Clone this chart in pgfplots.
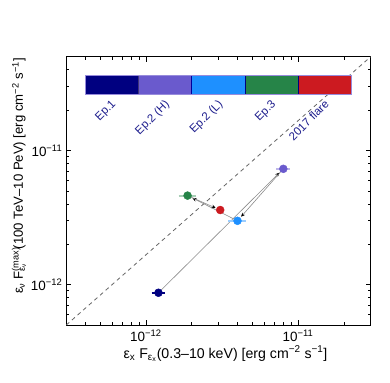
\documentclass[border=0pt]{standalone}
\usepackage{fontspec}
\setmainfont{Liberation Sans}
\usepackage{pgfplots}
\pgfplotsset{compat=1.18}
\usetikzlibrary{arrows.meta}

\definecolor{cEpA}{RGB}{0,0,128}
\definecolor{cEpB}{RGB}{106,90,205}
\definecolor{cEpC}{RGB}{30,144,255}
\definecolor{cEpD}{RGB}{38,132,72}
\definecolor{cFl}{RGB}{204,26,32}
\definecolor{labc}{RGB}{28,28,140}
\definecolor{arrc}{RGB}{140,140,140}

\begin{document}
\begin{tikzpicture}
\path[use as bounding box] (-66.3bp,-58bp) rectangle (323.7bp,325bp);
\begin{axis}[
  scale only axis, width=304.4bp, height=268.3bp,
  xmode=log, ymode=log,
  xmin=3e-13, xmax=3e-11, ymin=5e-13, ymax=5e-11,
  axis line style={line width=0.8bp},
  tick align=inside,
  major tick length=5bp, minor tick length=3bp,
  every tick/.style={black, line width=0.6bp},
  xtick={1e-12,1e-11},
  xticklabels={10\textsuperscript{−12},10\textsuperscript{−11}},
  ytick={1e-12,1e-11},
  yticklabels={10\textsuperscript{−12},10\textsuperscript{−11}},
  minor xtick={4e-13,5e-13,6e-13,7e-13,8e-13,9e-13,2e-12,3e-12,4e-12,5e-12,6e-12,7e-12,8e-12,9e-12,2e-11,3e-11},
  minor ytick={6e-13,7e-13,8e-13,9e-13,2e-12,3e-12,4e-12,5e-12,6e-12,7e-12,8e-12,9e-12,2e-11,3e-11,4e-11,5e-11},
  tick label style={font=\fontsize{13.5}{15}\selectfont},
  xticklabel style={yshift=-1bp},
  yticklabel style={xshift=-0.5bp},
  xlabel={ε\textsubscript{x} F\textsubscript{ε\textsubscript{x}}(0.3–10 keV) [erg cm\textsuperscript{−2} s\textsuperscript{−1}]},
  ylabel={ε\textsubscript{ν} F\rlap{\textsuperscript{(max)}}\textsubscript{ε\textsubscript{ν}}\hspace{1.05em}(100 TeV–10 PeV) [erg cm\textsuperscript{−2} s\textsuperscript{−1}]},
  every axis x label/.style={at={(rel axis cs:0.523,0)}, anchor=base, yshift=-33bp, font=\fontsize{14.2}{16}\selectfont},
  every axis y label/.style={at={(rel axis cs:0,0.555)}, xshift=-43.3bp, rotate=90, anchor=base, font=\fontsize{13.2}{15}\selectfont},
  clip=false,
]
% dashed reference line
\addplot[color=black!60, line width=0.8bp, dash pattern=on 4bp off 3.5bp] coordinates {(3e-13,5e-13) (3e-11,5e-11)};

% evolution arrows
\addplot[arrc, line width=0.6bp, -{Stealth[black,length=4bp,width=3.6bp]}, shorten >=5.5bp] coordinates {(1.21e-12,0.87e-12) (8.0e-12,7.3e-12)};
\addplot[arrc, line width=0.6bp, -{Stealth[black,length=4bp,width=3.6bp]}, shorten >=5.5bp] coordinates {(8.0e-12,7.3e-12) (4.0e-12,2.99e-12)};
\addplot[arrc, line width=0.6bp, -{Stealth[black,length=4bp,width=3.6bp]}, shorten >=5.5bp] coordinates {(4.0e-12,2.99e-12) (1.88e-12,4.61e-12)};
\addplot[arrc, line width=0.6bp, -{Stealth[black,length=4bp,width=3.6bp]}, shorten >=5bp] coordinates {(1.88e-12,4.61e-12) (3.08e-12,3.6e-12)};

% horizontal error bars
\addplot[cEpA, line width=1.5bp] coordinates {(1.09e-12,0.87e-12) (1.344e-12,0.87e-12)};
\addplot[cEpB!45, line width=2bp] coordinates {(7.2e-12,7.3e-12) (8.89e-12,7.3e-12)};
\addplot[cEpC!45, line width=2bp] coordinates {(3.49e-12,2.99e-12) (4.58e-12,2.99e-12)};
\addplot[cEpD!40, line width=2bp] coordinates {(1.64e-12,4.61e-12) (2.15e-12,4.61e-12)};

% points
\addplot[only marks, mark=*, mark size=4bp, cEpA] coordinates {(1.21e-12,0.87e-12)};
\addplot[only marks, mark=*, mark size=4bp, cEpB] coordinates {(8.0e-12,7.3e-12)};
\addplot[only marks, mark=*, mark size=4bp, cEpC] coordinates {(4.0e-12,2.99e-12)};
\addplot[only marks, mark=*, mark size=4bp, cEpD] coordinates {(1.88e-12,4.61e-12)};
\addplot[only marks, mark=*, mark size=4bp, cFl] coordinates {(3.08e-12,3.6e-12)};

% colour bar
\filldraw[fill=cEpA, draw=cEpA!60!blue, line width=0.5bp] (axis cs:3.98e-13,2.62e-11) rectangle (axis cs:8.91e-13,3.66e-11);
\filldraw[fill=cEpB, draw=cEpB!60!black, line width=0.5bp] (axis cs:8.91e-13,2.62e-11) rectangle (axis cs:1.995e-12,3.66e-11);
\filldraw[fill=cEpC, draw=blue!60!black, line width=0.5bp] (axis cs:1.995e-12,2.62e-11) rectangle (axis cs:4.47e-12,3.66e-11);
\filldraw[fill=cEpD, draw=blue!50!black, line width=0.5bp] (axis cs:4.47e-12,2.62e-11) rectangle (axis cs:1e-11,3.66e-11);
\filldraw[fill=cFl, draw=blue!50!black, line width=0.5bp] (axis cs:1e-11,2.62e-11) rectangle (axis cs:2.24e-11,3.66e-11);
\draw[cEpB!70!white, line width=0.8bp] (axis cs:3.98e-13,2.62e-11) rectangle (axis cs:2.24e-11,3.66e-11);

\coordinate (b1) at (axis cs:5.96e-13,2.62e-11);
\coordinate (b2) at (axis cs:1.334e-12,2.62e-11);
\coordinate (b3) at (axis cs:2.985e-12,2.62e-11);
\coordinate (b4) at (axis cs:6.68e-12,2.62e-11);
\coordinate (b5) at (axis cs:1.496e-11,2.62e-11);
\end{axis}
\begin{scope}[every node/.style={rotate=45, anchor=north east, inner sep=0pt, text=labc, font=\fontsize{11.5}{13}\selectfont}]
\node at ([xshift=-1bp,yshift=-4.5bp]b1) {Ep.1};
\node at ([xshift=-1bp,yshift=-4.5bp]b2) {Ep.2 (H)};
\node at ([xshift=-1bp,yshift=-4.5bp]b3) {Ep.2 (L)};
\node at ([xshift=-1bp,yshift=-4.5bp]b4) {Ep.3};
\node at ([xshift=-1bp,yshift=-4.5bp]b5) {2017 flare};
\end{scope}
\end{tikzpicture}
\end{document}
